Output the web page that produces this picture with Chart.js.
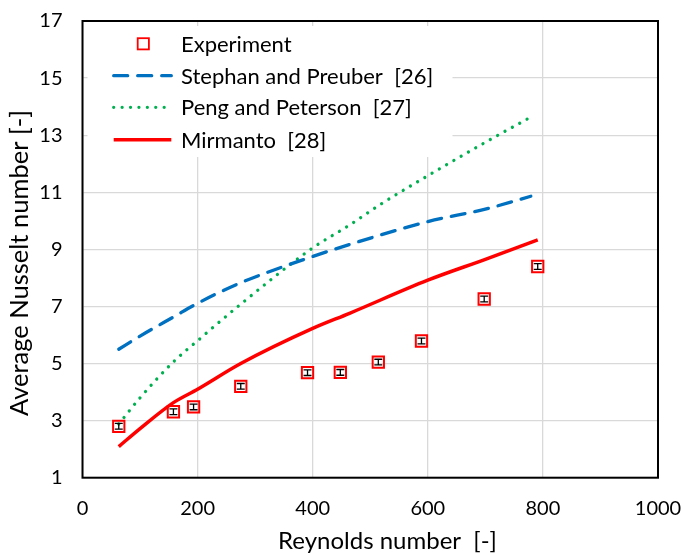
<!DOCTYPE html>
<html>
<head>
<meta charset="utf-8">
<script src="https://cdn.jsdelivr.net/npm/chart.js@4/dist/chart.umd.min.js"></script>
<style>
  html, body { margin: 0; padding: 0; background: #fff; }
  #wrap { width: 681px; height: 554px; position: relative; }
</style>
</head>
<body>
<div id="wrap"><canvas id="c"></canvas></div>
<script>
// Measured average Nusselt number against Reynolds number
const reExp  = [63, 158, 193, 275, 391, 448, 514, 589, 698, 791];
const nuExp  = [2.8, 3.31, 3.48, 4.2, 4.68, 4.69, 5.05, 5.79, 7.26, 8.4];
const errExp = [0.1, 0.1, 0.1, 0.1, 0.1, 0.1, 0.1, 0.1, 0.1, 0.1];

// Correlations from the literature
const reStephan = [63, 100, 158, 200, 275, 400, 464, 600, 700, 779];
const nuStephan = [5.5, 5.96, 6.63, 7.11, 7.83, 8.75, 9.17, 9.97, 10.41, 10.86];

const rePeng = [63, 100, 158, 200, 275, 400, 464, 522, 600, 700, 783];
const nuPeng = [2.88, 3.8, 5.06, 5.8, 7.08, 9.05, 9.85, 10.63, 11.58, 12.75, 13.68];

const reMirmanto = [63, 100, 158, 200, 275, 400, 464, 600, 700, 791];
const nuMirmanto = [2.09, 2.72, 3.63, 4.1, 5.0, 6.23, 6.76, 7.92, 8.65, 9.33];

const xTicks = [0, 200, 400, 600, 800, 1000];
const yTicks = [1, 3, 5, 7, 9, 11, 13, 15, 17];

const seriesNames = ['Experiment', 'Stephan and Preuber  [26]', 'Peng and Peterson  [27]', 'Mirmanto  [28]'];
const xTitle = 'Reynolds number  [-]';
const yTitle = 'Average Nusselt number [-]';

const FONT = 'Lato, "Open Sans", sans-serif';
const pts = (xs, ys) => xs.map((x, i) => ({ x: x, y: ys[i] }));

// Frame around the plot area
const frame = {
  id: 'frame',
  afterDatasetsDraw(chart) {
    const { ctx, chartArea: a } = chart;
    ctx.save();
    ctx.strokeStyle = '#000';
    ctx.lineWidth = 2;
    ctx.strokeRect(a.left, a.top, a.right - a.left, a.bottom - a.top);
    ctx.restore();
  }
};

// Vertical error bars on the experimental points
const errorBars = {
  id: 'errorBars',
  afterDatasetsDraw(chart) {
    const { ctx, scales: { x, y } } = chart;
    ctx.save();
    ctx.strokeStyle = '#000';
    ctx.lineWidth = 1.3;
    reExp.forEach((re, i) => {
      const px = x.getPixelForValue(re);
      const y1 = y.getPixelForValue(nuExp[i] + errExp[i]);
      const y2 = y.getPixelForValue(nuExp[i] - errExp[i]);
      ctx.beginPath();
      ctx.moveTo(px, y1); ctx.lineTo(px, y2);
      ctx.moveTo(px - 4, y1); ctx.lineTo(px + 4, y1);
      ctx.moveTo(px - 4, y2); ctx.lineTo(px + 4, y2);
      ctx.stroke();
    });
    ctx.restore();
  }
};

// Legend box inside the plot, upper left
const insideLegend = {
  id: 'insideLegend',
  afterDatasetsDraw(chart) {
    const { ctx, chartArea: a } = chart;
    const left = a.left + 5, top = a.top + 5;
    ctx.save();
    ctx.fillStyle = '#fff';
    ctx.fillRect(left, top, 365, 131);
    const rowY = [43.8, 75.7, 107.3, 139.8];
    const x0 = 112, x1 = 173, textX = 181;
    chart.data.datasets.forEach((ds, i) => {
      const yy = rowY[i];
      if (i === 0) {
        ctx.strokeStyle = ds.borderColor;
        ctx.lineWidth = 1.8;
        ctx.strokeRect(143.3 - 5.6, yy - 5.6, 11.2, 11.2);
      } else {
        ctx.strokeStyle = ds.borderColor;
        ctx.lineWidth = ds.borderWidth;
        ctx.lineCap = ds.borderCapStyle || 'butt';
        ctx.setLineDash(ds.borderDash || []);
        ctx.beginPath();
        ctx.moveTo(x0 + 1.7, yy); ctx.lineTo(x1 - 1.7, yy);
        ctx.stroke();
        ctx.setLineDash([]);
      }
      ctx.fillStyle = '#000';
      ctx.font = '22px ' + FONT;
      ctx.textBaseline = 'middle';
      ctx.textAlign = 'left';
      ctx.fillText(ds.label, textX, yy + 1);
    });
    ctx.restore();
  }
};

// Axis titles
const axisTitles = {
  id: 'axisTitles',
  afterDraw(chart) {
    const { ctx } = chart;
    ctx.save();
    ctx.fillStyle = '#000';
    ctx.textAlign = 'center';
    ctx.textBaseline = 'alphabetic';
    ctx.font = '24px ' + FONT;
    ctx.fillText(xTitle, 387.5, 549);
    ctx.font = '25.5px ' + FONT;
    ctx.translate(27.5, 263);
    ctx.rotate(-Math.PI / 2);
    ctx.fillText(yTitle, 0, 0);
    ctx.restore();
  }
};

new Chart(document.getElementById('c'), {
  type: 'scatter',
  data: {
    datasets: [
      {
        label: seriesNames[0],
        data: pts(reExp, nuExp),
        showLine: false,
        pointStyle: 'rect',
        pointRadius: 8,
        pointHoverRadius: 8,
        borderColor: '#FF0000',
        backgroundColor: 'rgba(255,255,255,0)',
        pointBorderWidth: 2
      },
      {
        label: seriesNames[1],
        data: pts(reStephan, nuStephan),
        showLine: true,
        pointRadius: 0,
        borderColor: '#0070C0',
        borderWidth: 3.3,
        borderDash: [14, 10],
        borderCapStyle: 'round',
        cubicInterpolationMode: 'monotone'
      },
      {
        label: seriesNames[2],
        data: pts(rePeng, nuPeng),
        showLine: true,
        pointRadius: 0,
        borderColor: '#00B050',
        borderWidth: 3.3,
        borderDash: [0.01, 8.4],
        borderCapStyle: 'round',
        cubicInterpolationMode: 'monotone'
      },
      {
        label: seriesNames[3],
        data: pts(reMirmanto, nuMirmanto),
        showLine: true,
        pointRadius: 0,
        borderColor: '#FF0000',
        borderWidth: 3.5,
        cubicInterpolationMode: 'monotone'
      }
    ]
  },
  options: {
    responsive: true,
    maintainAspectRatio: false,
    animation: false,
    events: [],
    layout: { padding: { left: 0, top: 21, right: 23, bottom: 0 } },
    plugins: {
      legend: { display: false },
      tooltip: { enabled: false }
    },
    scales: {
      x: {
        type: 'linear',
        min: 0, max: 1000,
        afterFit(s) { s.height = 76.3; s.paddingLeft = 0; s.paddingRight = 0; },
        afterBuildTicks(s) { s.ticks = xTicks.map(v => ({ value: v })); },
        grid: { color: '#d9d9d9', lineWidth: 1.3, drawTicks: false },
        border: { display: false },
        ticks: { padding: 19, color: '#000', font: { family: FONT, size: 20 }, maxRotation: 0,
                 callback: v => String(v) }
      },
      y: {
        type: 'linear',
        min: 1, max: 17,
        afterFit(s) { s.width = 82.5; s.paddingTop = 0; s.paddingBottom = 0; },
        afterBuildTicks(s) { s.ticks = yTicks.map(v => ({ value: v })); },
        grid: { color: '#d9d9d9', lineWidth: 1.3, drawTicks: false },
        border: { display: false },
        ticks: { padding: 20, color: '#000', font: { family: FONT, size: 20 },
                 callback: v => String(v) }
      }
    }
  },
  plugins: [frame, errorBars, insideLegend, axisTitles]
});
</script>
</body>
</html>
